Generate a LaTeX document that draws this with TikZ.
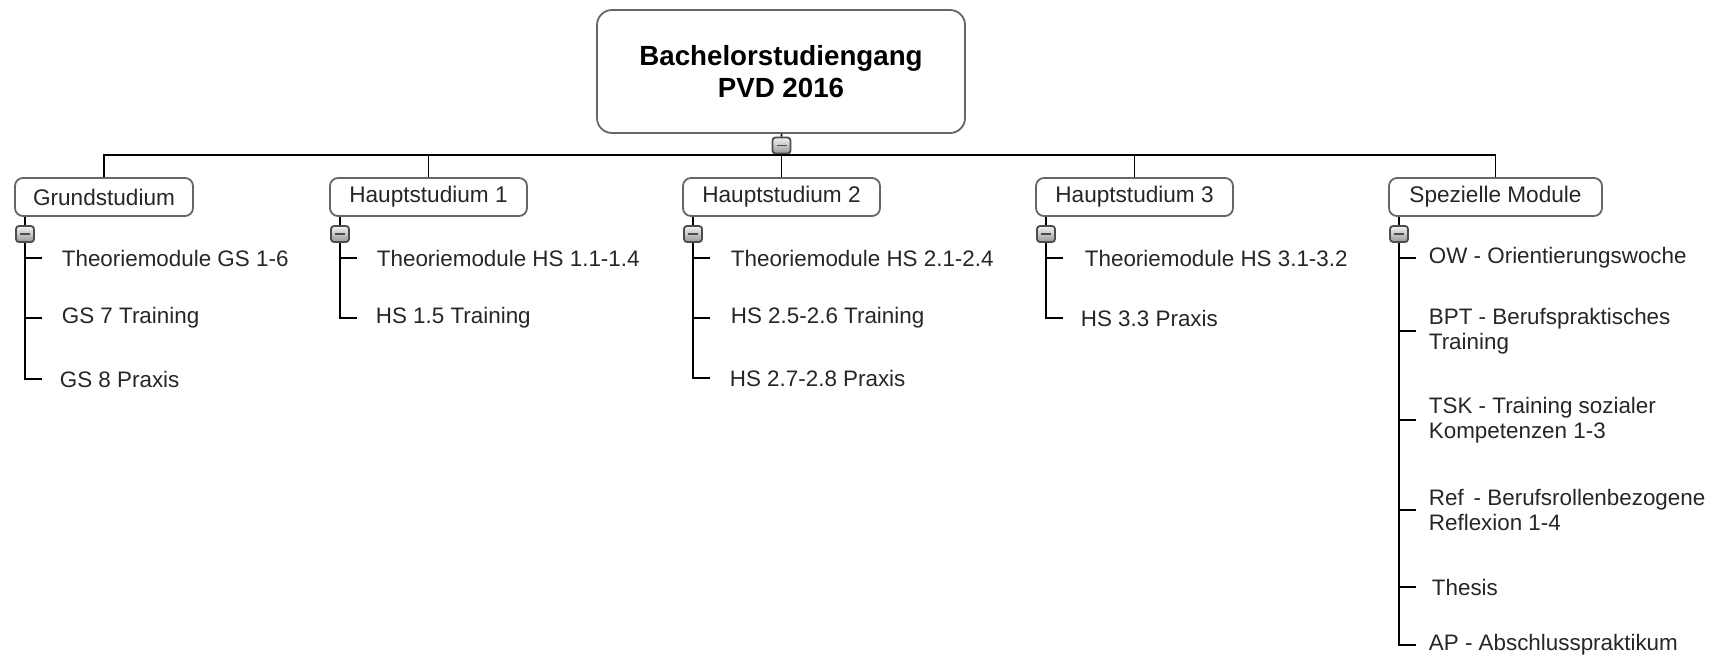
\documentclass[tikz,border=0pt]{standalone}
\usepackage{fontspec}
\setmainfont{Liberation Sans}
\tikzset{
  topic/.style={draw=black!60, rounded corners=4pt, minimum height=19pt, inner sep=0pt,
    font=\fontsize{11.3}{13}\selectfont, text=black!85},
  leaf/.style={anchor=west, inner sep=0pt, align=left,
    font=\fontsize{11.2}{12.6}\selectfont, text=black!85},
  fold/.style={draw=black!70, rounded corners=1.5pt, minimum width=9pt, minimum height=8pt,
    inner sep=0pt, top color=black!5, bottom color=black!40,
    path picture={\draw[line width=0.6pt] ([xshift=-2.5pt]path picture bounding box.center)
      -- ([xshift=2.5pt]path picture bounding box.center);}},
}
\begin{document}
\begin{tikzpicture}[x=0.5pt, y=-0.5pt, line width=0.9pt]
        \useasboundingbox (0,0) rectangle (1733,660);

        \node[draw=black!60, rounded corners=7.5pt, minimum width=184pt, minimum height=61.5pt, align=center,
            font=\bfseries\fontsize{13.85}{16}\selectfont] (root) at (781,71.5) {Bachelorstudiengang\\PVD 2016};
        \node[fold] (root-f) at (781.5,145.5) {};
        \coordinate (bus) at (781,155);

        \node[topic, minimum width=89pt] (gs) at (104,197) {Grundstudium};
        \node[topic, minimum width=98.5pt] (hs1) at (428.5,197) {Hauptstudium 1};
        \node[topic, minimum width=98.5pt] (hs2) at (781.5,197) {Hauptstudium 2};
        \node[topic, minimum width=98.5pt] (hs3) at (1134.5,197) {Hauptstudium 3};
        \node[topic, minimum width=106.5pt] (sm) at (1495.5,197) {Spezielle Module};

        \node[fold] (gs-f) at (25,234) {};
        \node[fold] (hs1-f) at (340,234) {};
        \node[fold] (hs2-f) at (693,234) {};
        \node[fold] (hs3-f) at (1046,234) {};
        \node[fold] (sm-f) at (1399,234) {};

        \node[leaf] (gs-1) at (61,258) {Theoriemodule GS 1-6};
        \node[leaf] (gs-2) at (61,318) {GS 7 Training};
        \node[leaf] (gs-3) at (59,379) {GS 8 Praxis};

        \node[leaf] (hs1-1) at (376,258) {Theoriemodule HS 1.1-1.4};
        \node[leaf] (hs1-2) at (375,318) {HS 1.5 Training};

        \node[leaf] (hs2-1) at (730,258) {Theoriemodule HS 2.1-2.4};
        \node[leaf] (hs2-2) at (730,318) {HS 2.5-2.6 Training};
        \node[leaf] (hs2-3) at (729,378) {HS 2.7-2.8 Praxis};

        \node[leaf] (hs3-1) at (1084,258) {Theoriemodule HS 3.1-3.2};
        \node[leaf] (hs3-2) at (1080,318) {HS 3.3 Praxis};

        \node[leaf] (sm-1) at (1428,258) {OW - Orientierungswoche};
        \node[leaf] (sm-2) at (1428,331) {BPT - Berufspraktisches\\Training};
        \node[leaf] (sm-3) at (1428,420) {TSK - Training sozialer\\Kompetenzen 1-3};
        \node[leaf] (sm-4) at (1428,510) {Ref\,\ - Berufsrollenbezogene\\Reflexion 1-4};
        \node[leaf] (sm-5) at (1431,587) {Thesis};
        \node[leaf] (sm-6) at (1428,645) {AP - Abschlusspraktikum};

        % root to the five topics
        \draw (root) -- (root-f);
        \draw (root-f) -- (bus);
        \draw (gs.north) |- (bus) -| (sm.north);
        \foreach \t in {hs1,hs2,hs3}
            \draw (\t.north) -- (\t.north |- bus);

        % topics to their modules
        \foreach \t/\n in {gs/3,hs1/2,hs2/3,hs3/2,sm/6} {
            \draw (\t.south -| \t-f) -- (\t-f);
            \draw (\t-f.south) -- (\t-f |- \t-\n.west) -- ++(17,0);
            \foreach \i in {1,...,\n}
                \draw (\t-f |- \t-\i.west) -- ++(17,0);
        }
    \end{tikzpicture}
\end{document}
